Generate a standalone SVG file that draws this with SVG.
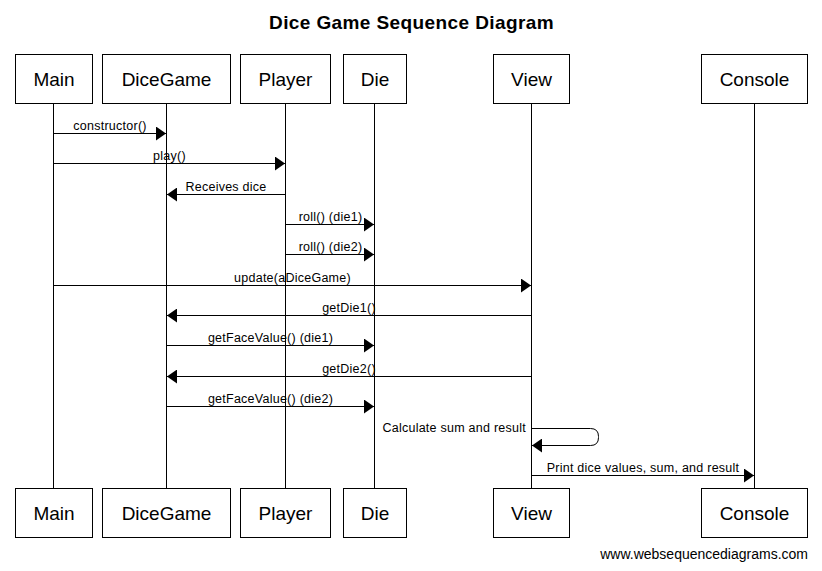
<svg xmlns="http://www.w3.org/2000/svg" width="822" height="571" viewBox="0 0 822 571">
  <style>
    .box { fill: #ffffff; stroke: #000000; stroke-width: 1; }
    .life { stroke: #000000; stroke-width: 1; fill: none; }
    .msg { stroke: #000000; stroke-width: 1; fill: none; marker-end: url(#head); }
    .pt { font-family: "Liberation Sans", Arial, sans-serif; font-size: 19px; fill: #000000; text-anchor: middle; }
    .ml { font-family: "Liberation Sans", Arial, sans-serif; font-size: 12.5px; letter-spacing: 0.25px; fill: #000000; text-anchor: middle; }
    .title { font-family: "Liberation Sans", Arial, sans-serif; font-size: 19px; font-weight: bold; letter-spacing: 0.4px; fill: #000000; text-anchor: middle; }
    .wm { font-family: "Liberation Sans", Arial, sans-serif; font-size: 14px; fill: #000000; text-anchor: end; }
  </style>
  <defs>
    <marker id="head" markerUnits="userSpaceOnUse" markerWidth="10" markerHeight="14" refX="10" refY="7" orient="auto" viewBox="0 0 10 14">
      <path d="M0,0 L10,7 L0,14 Z" fill="#000000"/>
    </marker>
  </defs>
  <rect x="0" y="0" width="822" height="571" fill="#ffffff"/>
  <text class="title" x="411.5" y="29">Dice Game Sequence Diagram</text>

  <g id="lifelines">
    <line class="life" x1="53.5" y1="103.5" x2="53.5" y2="488.5"/>
    <line class="life" x1="166.5" y1="103.5" x2="166.5" y2="488.5"/>
    <line class="life" x1="285.5" y1="103.5" x2="285.5" y2="488.5"/>
    <line class="life" x1="374.5" y1="103.5" x2="374.5" y2="488.5"/>
    <line class="life" x1="531.5" y1="103.5" x2="531.5" y2="488.5"/>
    <line class="life" x1="754.5" y1="103.5" x2="754.5" y2="488.5"/>
  </g>

  <g id="Main">
    <rect class="box" x="15.5" y="54.5" width="77" height="49"/>
    <text class="pt" x="54" y="85.5">Main</text>
    <rect class="box" x="15.5" y="488.5" width="77" height="49"/>
    <text class="pt" x="54" y="520">Main</text>
  </g>
  <g id="DiceGame">
    <rect class="box" x="102.5" y="54.5" width="128" height="49"/>
    <text class="pt" x="166.5" y="85.5">DiceGame</text>
    <rect class="box" x="102.5" y="488.5" width="128" height="49"/>
    <text class="pt" x="166.5" y="520">DiceGame</text>
  </g>
  <g id="Player">
    <rect class="box" x="240.5" y="54.5" width="90" height="49"/>
    <text class="pt" x="285.5" y="85.5">Player</text>
    <rect class="box" x="240.5" y="488.5" width="90" height="49"/>
    <text class="pt" x="285.5" y="520">Player</text>
  </g>
  <g id="Die">
    <rect class="box" x="343.5" y="54.5" width="63" height="49"/>
    <text class="pt" x="375" y="85.5">Die</text>
    <rect class="box" x="343.5" y="488.5" width="63" height="49"/>
    <text class="pt" x="375" y="520">Die</text>
  </g>
  <g id="View">
    <rect class="box" x="493.5" y="54.5" width="76" height="49"/>
    <text class="pt" x="531.5" y="85.5">View</text>
    <rect class="box" x="493.5" y="488.5" width="76" height="49"/>
    <text class="pt" x="531.5" y="520">View</text>
  </g>
  <g id="Console">
    <rect class="box" x="701.5" y="54.5" width="106" height="49"/>
    <text class="pt" x="754.5" y="85.5">Console</text>
    <rect class="box" x="701.5" y="488.5" width="106" height="49"/>
    <text class="pt" x="754.5" y="520">Console</text>
  </g>

  <g id="connectors">
    <line class="msg" x1="53.5" y1="133.5" x2="166" y2="133.5"/>
    <text class="ml" x="110" y="129.5">constructor()</text>

    <line class="msg" x1="53.5" y1="163.5" x2="285" y2="163.5"/>
    <text class="ml" x="169.5" y="159.5">play()</text>

    <line class="msg" x1="285.5" y1="194.5" x2="167" y2="194.5"/>
    <text class="ml" x="226" y="190.5">Receives dice</text>

    <line class="msg" x1="285.5" y1="224.5" x2="374" y2="224.5"/>
    <text class="ml" x="330.5" y="220.5">roll() (die1)</text>

    <line class="msg" x1="285.5" y1="254.5" x2="374" y2="254.5"/>
    <text class="ml" x="330.5" y="250.5">roll() (die2)</text>

    <line class="msg" x1="53.5" y1="285.5" x2="531" y2="285.5"/>
    <text class="ml" x="292.5" y="281.5">update(aDiceGame)</text>

    <line class="msg" x1="531.5" y1="315.5" x2="167" y2="315.5"/>
    <text class="ml" x="349" y="311.5">getDie1()</text>

    <line class="msg" x1="166.5" y1="345.5" x2="374" y2="345.5"/>
    <text class="ml" x="270.5" y="341.5">getFaceValue() (die1)</text>

    <line class="msg" x1="531.5" y1="376.5" x2="167" y2="376.5"/>
    <text class="ml" x="349" y="372.5">getDie2()</text>

    <line class="msg" x1="166.5" y1="406.5" x2="374" y2="406.5"/>
    <text class="ml" x="270.5" y="402.5">getFaceValue() (die2)</text>

    <path class="msg" d="M531.5,428.5 H590.5 Q598.5,428.5 598.5,436.5 V437.5 Q598.5,445.5 590.5,445.5 H532"/>
    <text class="ml" x="526" y="432" style="text-anchor:end">Calculate sum and result</text>

    <line class="msg" x1="531.5" y1="475.5" x2="754" y2="475.5"/>
    <text class="ml" x="643" y="471.5">Print dice values, sum, and result</text>
  </g>

  <text class="wm" x="808" y="559">www.websequencediagrams.com</text>
</svg>
